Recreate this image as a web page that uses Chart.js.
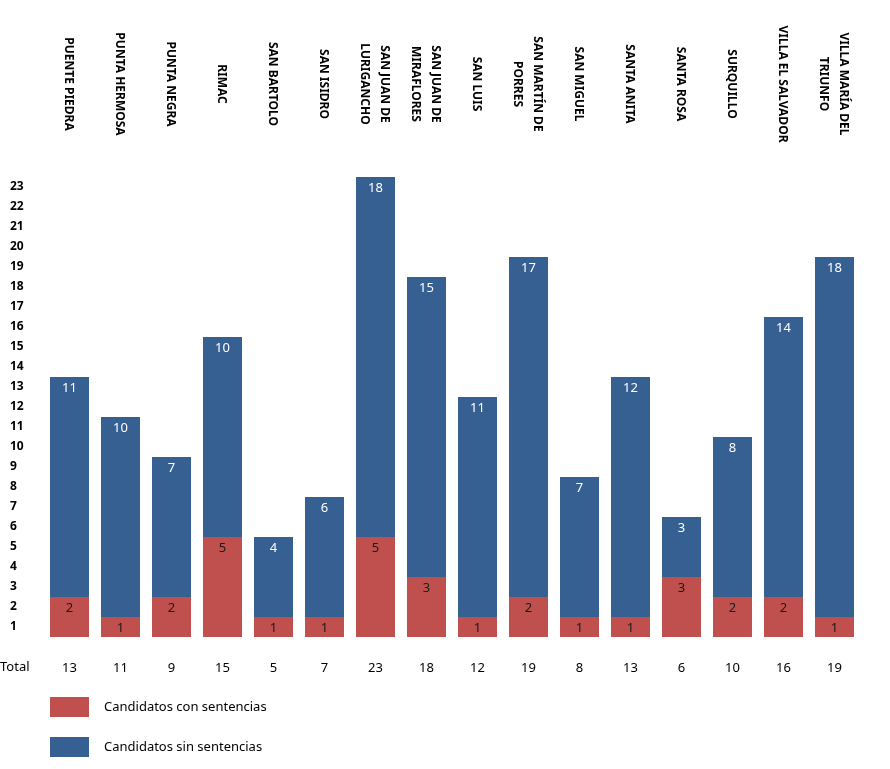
<!DOCTYPE html>
<html>
<head>
<meta charset="utf-8">
<script src="https://cdn.jsdelivr.net/npm/chart.js@4.4.1/dist/chart.umd.min.js"></script>
<style>
  html, body { margin: 0; padding: 0; background: #fff; }
  #wrap { width: 890px; height: 769px; }
</style>
</head>
<body>
<div id="wrap"><canvas id="chart"></canvas></div>
<script>
// districts (multi-line names as arrays)
var distritos = [
    'PUENTE PIEDRA', 'PUNTA HERMOSA', 'PUNTA NEGRA', 'RIMAC', 'SAN BARTOLO',
    'SAN ISIDRO', ['SAN JUAN DE', 'LURIGANCHO'], ['SAN JUAN DE', 'MIRAFLORES'],
    'SAN LUIS', ['SAN MARTÍN DE', 'PORRES'], 'SAN MIGUEL', 'SANTA ANITA',
    'SANTA ROSA', 'SURQUILLO', 'VILLA EL SALVADOR', ['VILLA MARÍA DEL', 'TRIUNFO']
];
var conSentencias = [2, 1, 2, 5, 1, 1, 5, 3, 1, 2, 1, 1, 3, 2, 2, 1];
var sinSentencias = [11, 10, 7, 10, 4, 6, 18, 15, 11, 17, 7, 12, 3, 8, 14, 18];
var yTickLabels = ['1','2','3','4','5','6','7','8','9','10','11','12','13','14','15','16','17','18','19','20','21','22','23'];

var totales = [];
for (var i in conSentencias) {
    totales.push(conSentencias[i] + sinSentencias[i]);
}

var ROJO = '#C0504D';
var AZUL = '#376092';

// labels inside the bars, district names on top, "Total" and legend
var extras = {
    id: 'extras',
    afterDatasetsDraw: function (chart) {
        var ctx = chart.ctx;
        ctx.save();
        ctx.textAlign = 'center';
        ctx.textBaseline = 'middle';
        ctx.font = '13px "Noto Sans"';
        chart.data.datasets.forEach(function (ds, di) {
            var meta = chart.getDatasetMeta(di);
            ctx.fillStyle = di === 0 ? '#1a1a1a' : '#ffffff';
            meta.data.forEach(function (bar, j) {
                ctx.fillText(ds.data[j], bar.x, bar.y + 11);
            });
        });

        // rotated district names
        var xs = chart.scales.x;
        ctx.font = 'bold 12px "Noto Sans"';
        ctx.fillStyle = '#000';
        distritos.forEach(function (name, j) {
            var lines = Array.isArray(name) ? name : [name];
            var cx = xs.getPixelForValue(j);
            ctx.save();
            ctx.translate(cx, 84);
            ctx.rotate(Math.PI / 2);
            lines.forEach(function (ln, k) {
                var off = (k - (lines.length - 1) / 2) * 20;
                ctx.fillText(ln, 0, off + 1);
            });
            ctx.restore();
        });

        // "Total" row caption
        ctx.textAlign = 'left';
        ctx.font = '13px "Noto Sans"';
        ctx.fillText('Total', 0, 667);

        // legend
        var items = [
            { label: chart.data.datasets[0].label, color: ROJO, y: 697 },
            { label: chart.data.datasets[1].label, color: AZUL, y: 737 }
        ];
        items.forEach(function (it) {
            ctx.fillStyle = it.color;
            ctx.fillRect(50, it.y, 39, 20);
            ctx.fillStyle = '#000';
            ctx.fillText(it.label, 104, it.y + 10);
        });
        ctx.restore();
    }
};

new Chart(document.getElementById('chart'), {
    type: 'bar',
    data: {
        labels: distritos,
        datasets: [
            { label: 'Candidatos con sentencias', data: conSentencias, backgroundColor: ROJO },
            { label: 'Candidatos sin sentencias', data: sinSentencias, backgroundColor: AZUL }
        ]
    },
    options: {
        responsive: true,
        maintainAspectRatio: false,
        animation: false,
        layout: { padding: { top: 177, right: 30, left: 10, bottom: 0 } },
        plugins: { legend: { display: false }, tooltip: { enabled: false } },
        datasets: { bar: { barPercentage: 0.765, categoryPercentage: 1 } },
        scales: {
            x: {
                stacked: true,
                grid: { display: false },
                border: { display: false },
                afterFit: function (s) { s.height = 132; },
                ticks: {
                    autoSkip: false,
                    maxRotation: 0,
                    padding: 15,
                    color: '#000',
                    font: { family: 'Noto Sans', size: 13 },
                    callback: function (v, idx) { return totales[idx]; }
                }
            },
            y: {
                stacked: true,
                min: 0,
                max: 23,
                grid: { display: false },
                border: { display: false },
                afterFit: function (s) { s.width = 34; },
                afterBuildTicks: function (s) {
                    s.ticks = yTickLabels.map(function (t, k) { return { value: k + 0.5 }; });
                },
                ticks: {
                    crossAlign: 'far',
                    color: '#000',
                    font: { family: 'Noto Sans', size: 12, weight: 'bold' },
                    callback: function (v, idx) { return yTickLabels[idx]; }
                }
            }
        }
    },
    plugins: [extras]
});
</script>
</body>
</html>
